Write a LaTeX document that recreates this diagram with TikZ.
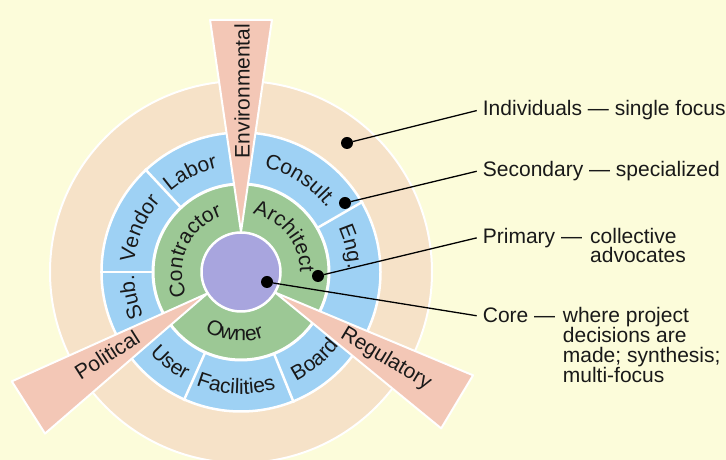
\documentclass[tikz,border=0pt]{standalone}
\usepackage{fontspec}
\setmainfont{Liberation Sans}
\usetikzlibrary{decorations.text}
\definecolor{bgcol}{RGB}{252,252,218}
\definecolor{beigecol}{RGB}{246,226,200}
\definecolor{bluecol}{RGB}{158,209,244}
\definecolor{greencol}{RGB}{156,200,149}
\definecolor{corecol}{RGB}{168,165,222}
\definecolor{wedgecol}{RGB}{243,199,182}
\definecolor{inkcol}{RGB}{25,25,25}
\newcommand{\ringfont}{\fontsize{21}{21}\selectfont}
\tikzset{
  ringlabel/.style={decorate, decoration={text along path, text align=center, text color=inkcol, text={|\ringfont|#1}}},
  wlabel/.style={font=\ringfont, text=inkcol, inner sep=0pt},
  calltext/.style={font=\ringfont, text=inkcol, inner xsep=6pt, inner ysep=0pt, anchor=base west},
  calltextb/.style={font=\ringfont, text=inkcol, inner sep=0pt, anchor=base west},
  dotnode/.style={circle, fill=black, inner sep=0pt, minimum size=12pt},
  callline/.style={draw=black, line width=1.3pt},
  wedgeshape/.style={fill=wedgecol, draw=white, line width=2pt, line join=round},
  sepline/.style={draw=white, line width=2.5pt}
}
\begin{document}
\begin{tikzpicture}[x=1pt,y=1pt]
\useasboundingbox (0,0) rectangle (726,460);
\fill[bgcol] (0,0) rectangle (726,460);
\begin{scope}[shift={(241,188)}]
  % rings
  \filldraw[fill=beigecol, draw=white, line width=2pt] (0,0) circle[radius=191pt];
  \filldraw[fill=bluecol, draw=white, line width=2.5pt] (0,0) circle[radius=139.5pt];
  \foreach \a in {133,180,30,246,292} {\draw[sepline] (\a:88) -- (\a:141);}
  \filldraw[fill=greencol, draw=white, line width=3pt] (0,0) circle[radius=88pt];
  % wedges
  \path[wedgeshape] (90:40) -- (97:254) -- (83:254) -- cycle;
  \path[wedgeshape] (212.5:40) -- (219.5:254) -- (205.5:254) -- cycle;
  \path[wedgeshape] (329:40) -- (336:254) -- (322:254) -- cycle;
  % core
  \filldraw[fill=corecol, draw=white, line width=2.5pt] (0,0) circle[radius=39.5pt];
  % primary labels
  \path[ringlabel=Contractor] (216:59pt) arc[start angle=216, end angle=96, radius=59pt];
  \path[ringlabel=Architect] (99:59pt) arc[start angle=99, end angle=-21, radius=59pt];
  \path[ringlabel=Owner] (204:69pt) arc[start angle=204, end angle=324, radius=69pt];
  % secondary labels
  \path[ringlabel=Labor] (177:107pt) arc[start angle=177, end angle=57, radius=107pt];
  \path[ringlabel=Vendor] (217:107pt) arc[start angle=217, end angle=97, radius=107pt];
  \path[ringlabel=Sub.] (253:107pt) arc[start angle=253, end angle=133, radius=107pt];
  \path[ringlabel=Consult.] (117:107pt) arc[start angle=117, end angle=-3, radius=107pt];
  \path[ringlabel=Eng.] (73:107pt) arc[start angle=73, end angle=-47, radius=107pt];
  \path[ringlabel=User] (172:122pt) arc[start angle=172, end angle=292, radius=122pt];
  \path[ringlabel=Facilities] (207.5:122pt) arc[start angle=207.5, end angle=327.5, radius=122pt];
  \path[ringlabel=Board] (250:122pt) arc[start angle=250, end angle=370, radius=122pt];
\end{scope}
% wedge labels
\node[wlabel, rotate=90] (env) at (242,369) {Environmental};
\node[wlabel, rotate=32.5] (pol) at (107,105) {Political};
\node[wlabel, rotate=-31] (reg) at (386,101) {Regulatory};
% callouts
\node[dotnode] (d1) at (347,317) {};
\node[dotnode] (d2) at (345,257) {};
\node[dotnode] (d3) at (318,184) {};
\node[dotnode] (d4) at (267,178) {};
\node[calltext] (t1) at (476.7,344) {Individuals — single focus};
\node[calltext] (t2) at (476.7,283.3) {Secondary — specialized};
\node[calltext] (t3) at (476.7,216.7) {Primary —};
\node[calltextb] (t3b) at (590,216.7) {collective};
\node[calltextb] (t3c) at (590,197.3) {advocates};
\node[calltext] (t4) at (476.7,137) {Core —};
\node[calltextb] (t4b) at (562.7,137) {where project};
\node[calltextb] (t4c) at (562.7,117) {decisions are};
\node[calltextb] (t4d) at (562.7,97) {made; synthesis;};
\node[calltextb] (t4e) at (562.7,77) {multi-focus};
\draw[callline] (d1) -- (t1.west);
\draw[callline] (d2) -- (t2.west);
\draw[callline] (d3) -- (t3.west);
\draw[callline] (d4) -- (t4.west);
\end{tikzpicture}
\end{document}
